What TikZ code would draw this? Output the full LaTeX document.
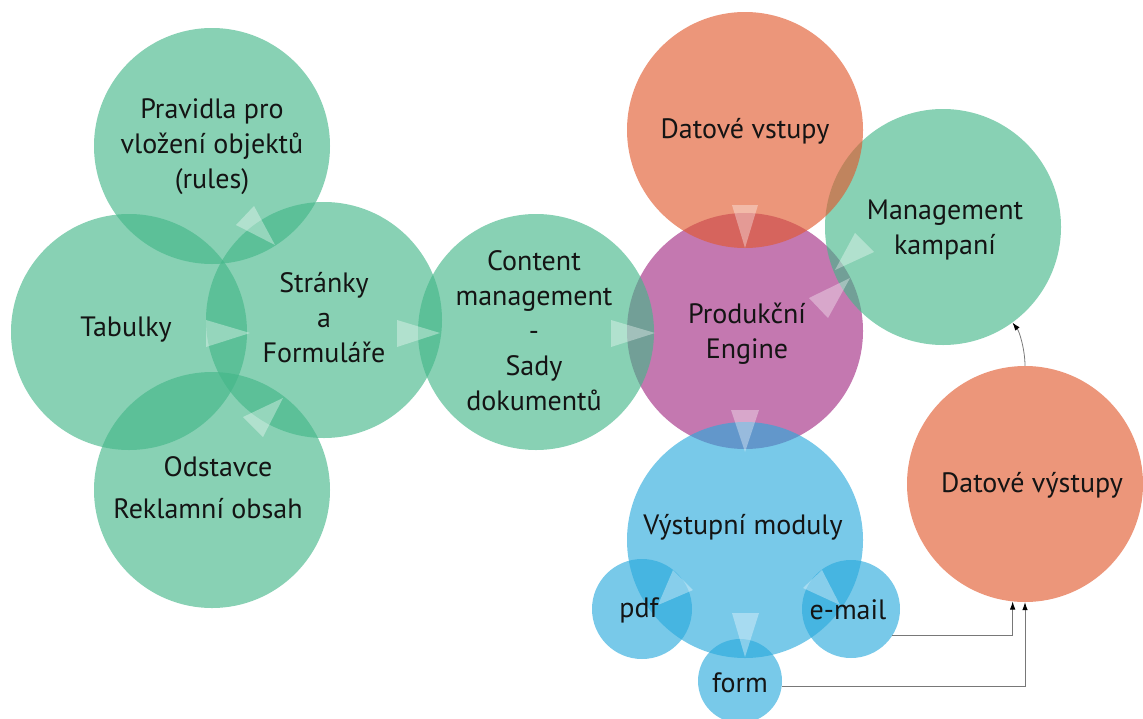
\documentclass[tikz,border=0pt]{standalone}
\usepackage{fontspec}
\setmainfont{PT Sans}
\usetikzlibrary{arrows.meta}

\definecolor{bubgreen}{RGB}{66,182,136}
\definecolor{bubred}{RGB}{225,88,44}
\definecolor{bubpink}{RGB}{161,41,130}
\definecolor{bubblue}{RGB}{41,169,220}
\definecolor{inkc}{RGB}{20,20,20}
\definecolor{wirec}{RGB}{120,120,120}

\begin{document}
\begin{tikzpicture}[x=1pt,y=-1pt,
  bubble/.style={circle, inner sep=0pt, minimum size=236pt, fill opacity=0.63, text opacity=1},
  green/.style={bubble, fill=bubgreen},
  red/.style={bubble, fill=bubred},
  pink/.style={bubble, fill=bubpink},
  blue/.style={bubble, fill=bubblue},
  txt/.style={align=center, text=inkc, inner sep=0pt, font=\fontsize{28}{35}\selectfont},
  flowmark/.style={fill=white, fill opacity=0.35},
  wire/.style={draw=wirec, line width=0.8pt, -{Latex[length=8pt,width=5.5pt,color=black]}}
]
\useasboundingbox (0,0) rectangle (1143,718);

% circles, back to front
\node[pink]  (engine)   at (745,331) {};
\node[green] (content)  at (536,332) {};
\node[green] (mgmt)     at (943,227) {};
\node[red]   (vstupy)   at (745,130) {};
\node[green] (pravidla) at (212,146) {};
\node[green] (tabulky)  at (129,332) {};
\node[green] (stranky)  at (324,320) {};
\node[green] (odstavce) at (212,490) {};
\node[blue]  (moduly)   at (745,540) {};
\node[blue, minimum size=100pt] (pdf)   at (642,609) {};
\node[blue, minimum size=98pt]  (email) at (851,609) {};
\node[blue, minimum size=84pt]  (form)  at (740,681) {};
\node[red]   (vystupy)  at (1025,484) {};

% flow markers
\fill[flowmark] (236,225) -- (254,206) -- (275,245) -- cycle;
\fill[flowmark] (206,320) -- (206,347) -- (250,333) -- cycle;
\fill[flowmark] (243,417) -- (263,437) -- (283,398) -- cycle;
\fill[flowmark] (397,320) -- (397,347) -- (440,333) -- cycle;
\fill[flowmark] (611,320) -- (611,347) -- (655,333) -- cycle;
\fill[flowmark] (732,205) -- (758,205) -- (745,248) -- cycle;
\fill[flowmark] (855,233) -- (874,252) -- (835,270) -- cycle;
\fill[flowmark] (809,298) -- (828,318) -- (850,278) -- cycle;
\fill[flowmark] (731,410) -- (759,410) -- (745,452) -- cycle;
\fill[flowmark] (673,570) -- (693,590) -- (658,605) -- cycle;
\fill[flowmark] (822,570) -- (803,588) -- (840,605) -- cycle;
\fill[flowmark] (732,613) -- (759,613) -- (745,657) -- cycle;

% texts
\node[txt] at (212,147) {Pravidla pro\\vložení objektů\\(rules)};
\node[txt] at (126,330) {Tabulky};
\node[txt] at (324,318) {Stránky\\a\\Formuláře};
\node[txt] at (208,488) {\hspace*{20pt}Odstavce\\[7pt]Reklamní obsah};
\node[txt] at (534,331) {Content\\management\\-\\Sady\\dokumentů};
\node[txt] at (747,334) {Produkční\\Engine};
\node[txt] at (745,131) {Datové vstupy};
\node[txt] at (945,230) {Management\\kampaní};
\node[txt] at (1032,485) {Datové výstupy};
\node[txt] at (743,527) {Výstupní moduly};
\node[txt] at (639,610) {pdf};
\node[txt] at (848,610) {e-mail};
\node[txt] at (740,683) {form};

% connectors
\draw[wire] (email.-33) -| (vystupy.264);
\draw[wire] (form.-7) -| (vystupy.south);
\draw[wire] (vystupy.north) .. controls +(0,-16) and +(7,9) .. (mgmt.-54);
\end{tikzpicture}
\end{document}
